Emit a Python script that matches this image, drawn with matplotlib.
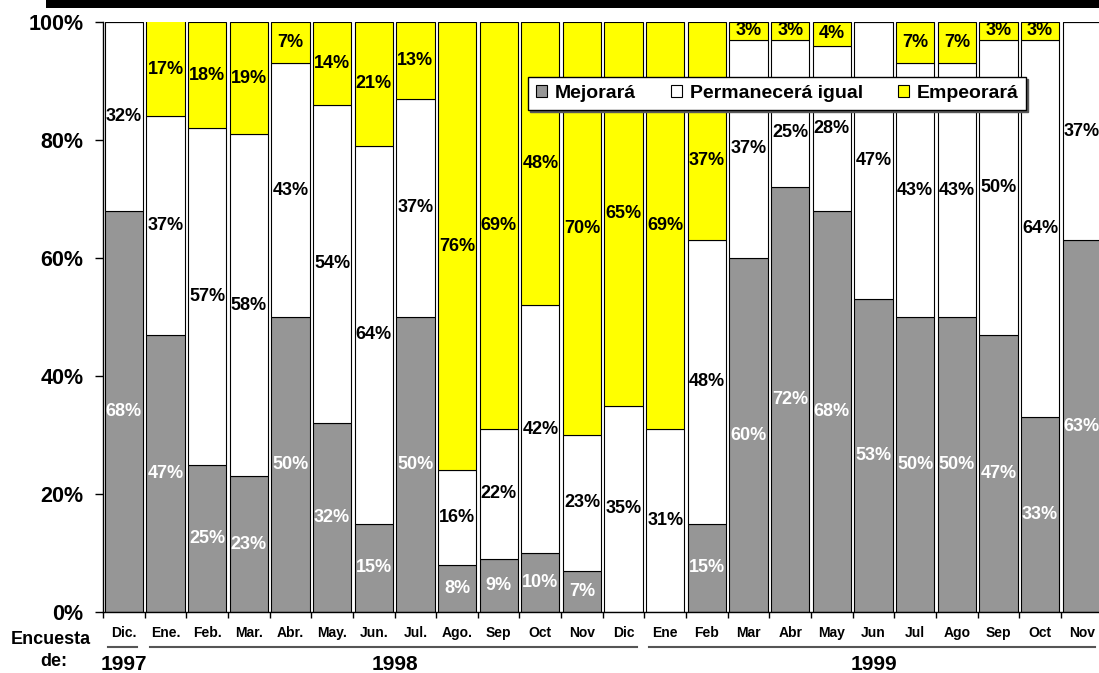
import matplotlib
matplotlib.use("Agg")
import matplotlib.pyplot as plt
from matplotlib.patches import Patch, Rectangle
from matplotlib.lines import Line2D
from matplotlib.transforms import blended_transform_factory

# Survey months (Dec 1997 - Nov 1999)
months = ["Dic.", "Ene.", "Feb.", "Mar.", "Abr.", "May.", "Jun.", "Jul.", "Ago.",
          "Sep", "Oct", "Nov", "Dic",
          "Ene", "Feb", "Mar", "Abr", "May", "Jun", "Jul", "Ago", "Sep", "Oct", "Nov"]
years = ["1997", "1998", "1999"]
months_per_year = [1, 12, 11]

# Share of answers per survey (%)
mejorara = [68, 47, 25, 23, 50, 32, 15, 50, 8, 9, 10, 7, 0,
            0, 15, 60, 72, 68, 53, 50, 50, 47, 33, 63]
permanecera = [32, 37, 57, 58, 43, 54, 64, 37, 16, 22, 42, 23, 35,
               31, 48, 37, 25, 28, 47, 43, 43, 50, 64, 37]
empeorara = [0, 17, 18, 19, 7, 14, 21, 13, 76, 69, 48, 70, 65,
             69, 37, 3, 3, 4, 0, 7, 7, 3, 3, 0]

series_names = ["Mejorará", "Permanecerá igual", "Empeorará"]
series_colors = ["#969696", "#FFFFFF", "#FFFF00"]
label_colors = ["white", "black", "black"]

# value labels pushed down so they stay clear of the legend box
label_shift = {(1, 16): -3.2, (2, 14): -5.0}

plt.rcParams["font.family"] = ["Liberation Sans", "DejaVu Sans"]
plt.rcParams["font.weight"] = "bold"

W, H = 1099, 673
fig = plt.figure(figsize=(W / 100, H / 100), dpi=100)

n = len(months)
period = 41.65
ax_left, ax_bottom, ax_top = 103, 612, 22
ax = fig.add_axes([ax_left / W, (H - ax_bottom) / H,
                   n * period / W, (ax_bottom - ax_top) / H])

x = list(range(n))
bottom = [0] * n
for s_idx, (vals, name, col, lcol) in enumerate(zip([mejorara, permanecera, empeorara],
                                                    series_names, series_colors, label_colors)):
    ax.bar(x, vals, width=0.92, bottom=bottom, color=col, edgecolor="black",
           linewidth=0.8, label=name, zorder=2)
    for i, v in enumerate(vals):
        if v > 0:
            top = min(bottom[i] + v, 100)
            ypos = (bottom[i] + top) / 2 + label_shift.get((s_idx, i), 0)
            ax.text(i, ypos, f"{v}%", ha="center", va="center",
                    fontsize=13, fontweight="bold", color=lcol, zorder=3)
    bottom = [b + v for b, v in zip(bottom, vals)]

ax.set_xlim(-0.5, n - 0.5)
ax.set_ylim(0, 100)
ax.set_yticks(range(0, 101, 20))
ax.set_yticklabels([f"{t}%" for t in range(0, 101, 20)])
ax.tick_params(axis="y", direction="out", length=6, width=1, pad=8, labelsize=15.5)
for lab in ax.get_yticklabels():
    lab.set_fontweight("bold")

ax.set_xticks(x)
ax.set_xticklabels(months)
ax.tick_params(axis="x", which="major", length=0, pad=10, labelsize=10)
for lab in ax.get_xticklabels():
    lab.set_fontweight("bold")
ax.set_xticks([i - 0.5 for i in range(n + 1)], minor=True)
ax.tick_params(axis="x", which="minor", direction="out", length=4, width=1)

for s in ["top", "right"]:
    ax.spines[s].set_visible(False)
for s in ["left", "bottom"]:
    ax.spines[s].set_linewidth(1)
    ax.spines[s].set_zorder(4)

# Year groups below the month labels
tr = blended_transform_factory(ax.transData, fig.transFigure)
start = 0
line_y = 1 - 647 / H
year_y = 1 - 665 / H
for yr, cnt in zip(years, months_per_year):
    end = start + cnt - 1
    ax.add_line(Line2D([start - 0.38, end + 0.32], [line_y, line_y], transform=tr,
                       color="#555555", linewidth=1.5, clip_on=False))
    ax.text((start + end) / 2, year_y, yr, transform=tr, ha="center", va="center",
            fontsize=15, fontweight="bold")
    start = end + 1

fig.text(51 / W, 1 - 639 / H, "Encuesta", ha="center", va="center",
         fontsize=13, fontweight="bold")
fig.text(54 / W, 1 - 661 / H, "de:", ha="center", va="center",
         fontsize=13, fontweight="bold")

# Header band
fig.patches.append(Rectangle((46 / W, 1 - 7.5 / H), 1 - 46 / W, 7.5 / H,
                             transform=fig.transFigure, facecolor="black",
                             edgecolor="none"))

handles = [Patch(facecolor=c, edgecolor="black", linewidth=0.8) for c in series_colors]
leg = fig.legend(handles, series_names, loc="upper left",
                 bbox_to_anchor=(528 / W, 1 - 77 / H), ncol=3,
                 prop={"size": 14, "weight": "bold"},
                 frameon=True, fancybox=False, edgecolor="black",
                 shadow={"ox": 1.5, "oy": -1.5, "color": "0.35", "alpha": 1.0},
                 handlelength=0.57, handleheight=0.57, handletextpad=0.4,
                 columnspacing=1.8, borderpad=0.4, borderaxespad=0)
leg.get_frame().set_linewidth(1)
leg.set_zorder(5)

fig.savefig("out.png", dpi=100)
